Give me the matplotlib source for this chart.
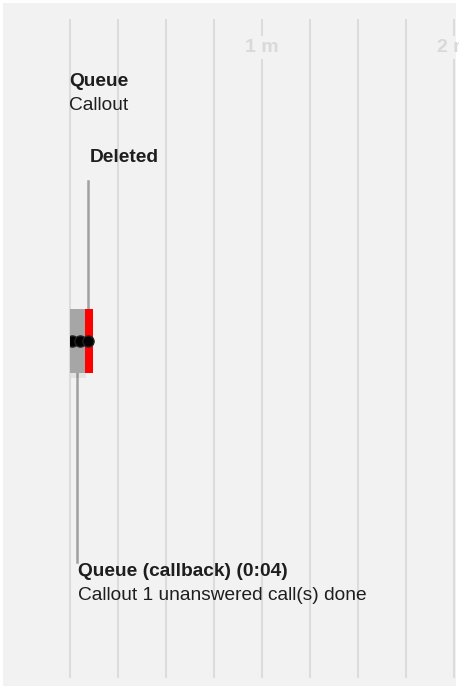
import numpy as np
import matplotlib.pyplot as plt
from matplotlib.patches import Rectangle

plt.rcParams['font.family'] = ['Liberation Sans', 'DejaVu Sans']

# timeline data (seconds)
grid_secs = [0, 15, 30, 45, 60, 75, 90, 105, 120]
tick_secs = [60, 120]
tick_labels = ['1 m', '2 m']

seg_starts = [0.0, 4.7]
seg_ends = [4.7, 7.2]
seg_colors = ['#a6a6a6', '#ff0000']

dot_secs = [0.6, 3.0, 5.6]

# callouts: (x in seconds, label lines)
top_label = ('Queue', 'Callout')
deleted_sec = 5.6
deleted_label = 'Deleted'
queue_sec = 2.2
bottom_label = ('Queue (callback) (0:04)', 'Callout 1 unanswered call(s) done')

W, H = 459, 689
fig = plt.figure(figsize=(W / 100, H / 100), dpi=100)
fig.patch.set_facecolor('white')
ax = fig.add_axes([3 / W, 3 / H, 453 / W, 683 / H])
ax.set_facecolor('#f2f2f2')

# px -> seconds: x_px = 70 + 3.2 * sec
ax.set_xlim((3 - 70) / 3.2, (456 - 70) / 3.2)
ax.set_ylim(686, 3)
ax.axis('off')
ax.add_patch(Rectangle((0, 0), 1, 1, transform=ax.transAxes,
                       facecolor='#f2f2f2', edgecolor='none', zorder=0))

# gridlines with gaps for tick labels
for s in grid_secs:
    if s in tick_secs:
        ax.plot([s, s], [20, 35], color='#dcdcdc', lw=1.5, zorder=1)
        ax.plot([s, s], [60, 677], color='#dcdcdc', lw=1.5, zorder=1)
    else:
        ax.plot([s, s], [20, 677], color='#dcdcdc', lw=1.5, zorder=1)
for s, lab in zip(tick_secs, tick_labels):
    ax.text(s, 47, lab, ha='center', va='center', fontsize=14,
            fontweight='bold', color='#d9d9d9', zorder=2)

# callout lines
ax.plot([deleted_sec, deleted_sec], [181, 340], color='#a0a0a0', lw=1.8, zorder=2)
ax.plot([queue_sec, queue_sec], [340, 562], color='#a0a0a0', lw=1.8, zorder=2)

# shadow + segments
ax.add_patch(Rectangle((seg_starts[0] + 0.3, 312), seg_ends[0] - seg_starts[0], 66,
                       facecolor='#000000', alpha=0.06, edgecolor='none', zorder=2))
for s0, s1, c in zip(seg_starts, seg_ends, seg_colors):
    ax.add_patch(Rectangle((s0, 309), s1 - s0, 64, facecolor=c,
                           edgecolor='none', zorder=3))

dots, = ax.plot(dot_secs, [341] * len(dot_secs), 'o', color='black', ms=8,
                markeredgecolor='#222222', zorder=4)
clip = Rectangle((0, 300), 20, 80, transform=ax.transData)
dots.set_clip_path(clip)

txt = '#1e1e1e'
fs = 13.8
ax.text(-0.3, 82, top_label[0], fontsize=fs, fontweight='bold', color=txt,
        ha='left', va='center', zorder=5)
ax.text(-0.3, 105, top_label[1], fontsize=fs, color=txt, ha='left', va='center', zorder=5)
ax.text(deleted_sec + 0.6, 158, deleted_label, fontsize=fs, fontweight='bold',
        color=txt, ha='left', va='center', zorder=5)
ax.text(queue_sec + 0.3, 572, bottom_label[0], fontsize=fs, fontweight='bold',
        color=txt, ha='left', va='center', zorder=5)
ax.text(queue_sec + 0.3, 595, bottom_label[1], fontsize=fs, color=txt,
        ha='left', va='center', zorder=5)

fig.savefig('out.png', dpi=100)
